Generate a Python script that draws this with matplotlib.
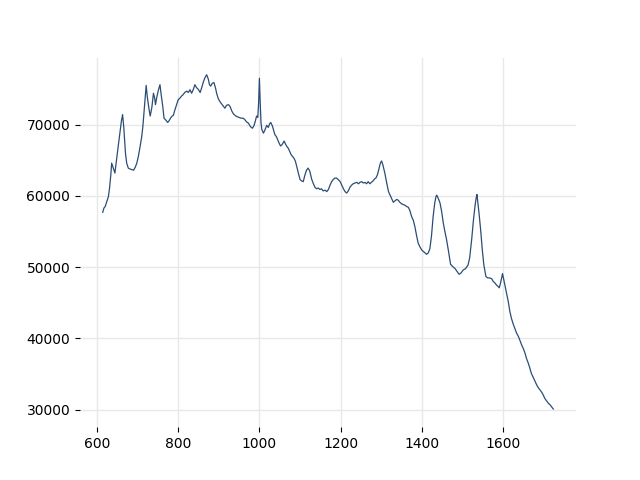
import matplotlib
matplotlib.use("Agg")
import matplotlib.pyplot as plt

# spectrum (x = wavenumber, y = intensity)
wavenumber = [614, 617, 620, 624, 628, 631, 634, 636, 640, 644, 648, 652, 656, 660, 663,
              666, 670, 673, 677, 680, 685, 690, 694, 698, 702, 706, 710, 713, 717, 721,
              724, 728, 731, 735, 739, 742, 744, 747, 751, 755, 758, 762, 765, 770, 774,
              777, 781, 785, 788, 792, 796, 800, 804, 808, 812, 816, 821, 825, 829, 833,
              837, 841, 845, 850, 854, 858, 862, 866, 870, 874, 877, 880, 884, 888, 892,
              895, 899, 903, 907, 911, 915, 919, 924, 928, 932, 936, 942, 946, 950, 955,
              960, 964, 968, 973, 977, 980, 983, 987, 990, 993, 996, 998, 1000, 1002, 1004,
              1006, 1010, 1014, 1018, 1022, 1025, 1028, 1032, 1035, 1038, 1042, 1047, 1052,
              1056, 1061, 1064, 1068, 1071, 1075, 1078, 1082, 1086, 1089, 1092, 1096, 1100,
              1104, 1108, 1112, 1116, 1120, 1124, 1127, 1129, 1133, 1137, 1141, 1145, 1149,
              1153, 1157, 1162, 1166, 1170, 1174, 1178, 1182, 1186, 1190, 1194, 1199, 1203,
              1207, 1211, 1215, 1219, 1223, 1227, 1231, 1235, 1240, 1244, 1248, 1252, 1256,
              1260, 1264, 1268, 1272, 1276, 1280, 1284, 1287, 1291, 1295, 1298, 1301, 1304,
              1309, 1313, 1318, 1322, 1326, 1330, 1334, 1338, 1342, 1346, 1350, 1354, 1358,
              1363, 1367, 1371, 1375, 1379, 1383, 1387, 1391, 1395, 1400, 1404, 1408, 1412,
              1416, 1420, 1424, 1428, 1432, 1435, 1437, 1441, 1445, 1449, 1453, 1457, 1461,
              1466, 1471, 1476, 1482, 1487, 1492, 1497, 1502, 1508, 1514, 1518, 1523, 1527,
              1531, 1534, 1536, 1538, 1541, 1545, 1549, 1553, 1558, 1562, 1566, 1572, 1576,
              1580, 1584, 1588, 1591, 1595, 1599, 1603, 1609, 1613, 1617, 1621, 1626, 1630,
              1634, 1638, 1642, 1646, 1650, 1654, 1658, 1662, 1666, 1670, 1675, 1679, 1683,
              1687, 1691, 1695, 1699, 1703, 1708, 1712, 1716, 1720, 1724]
intensity = [57700, 58300, 58500, 59200, 59900, 61200, 63000, 64600, 63900, 63200, 65100, 66900, 68700, 70500, 71400,
             69500, 66000, 64600, 63900, 63800, 63700, 63600, 64000, 64600, 65600, 66900, 68300, 69800, 72700, 75500,
             73800, 72200, 71200, 72400, 74400, 73700, 72800, 73800, 74800, 75600, 74200, 72500, 70900, 70600, 70300,
             70500, 70900, 71200, 71300, 72100, 72800, 73500, 73700, 74000, 74200, 74500, 74700, 74500, 74900, 74400,
             74900, 75600, 75200, 74900, 74500, 75200, 76000, 76600, 77000, 76400, 75600, 75400, 75800, 75900, 75100,
             74300, 73600, 73200, 72900, 72600, 72300, 72700, 72800, 72500, 71900, 71500, 71200, 71100, 71000, 70900,
             70900, 70700, 70400, 70200, 69800, 69600, 69500, 69900, 70500, 71200, 71000, 73000, 76500, 73000, 70200,
             69300, 68800, 69300, 69900, 69600, 70100, 70300, 69800, 69200, 68600, 68300, 67600, 67000,
             67200, 67700, 67300, 66900, 66700, 66200, 65800, 65500, 65200, 64800, 64100, 63200, 62300,
             62100, 62000, 62900, 63600, 63900, 63500, 62800, 62300, 61700, 61200, 61000, 61100, 60900,
             61000, 60700, 60800, 60600, 60900, 61500, 62000, 62300, 62500, 62500, 62300, 62000, 61500,
             61000, 60600, 60400, 60700, 61200, 61500, 61700, 61800, 61900, 61700, 61900, 62000, 61800,
             61900, 61700, 62000, 61700, 61900, 62100, 62400, 62500, 63000, 63900, 64600, 64900, 64400,
             63200, 62000, 60600, 60100, 59600, 59100, 59300, 59500, 59400, 59100, 58900, 58800, 58700,
             58500, 58400, 57900, 57100, 56600, 55700, 54500, 53400, 52900, 52400, 52200, 52000, 51800,
             52000, 52600, 54400, 57100, 59000, 59900, 60100, 59600, 59000, 57800, 56200, 55000, 53900,
             52200, 50400, 50100, 49800, 49400, 49000, 49200, 49600, 49800, 50300, 51300, 53900, 56400,
             58500, 59700, 60200, 59200, 57600, 55300, 52500, 50300, 48700, 48500, 48500, 48400, 48000,
             47800, 47500, 47300, 47100, 48000, 49100, 48000, 46400, 45200, 43800, 42800, 41900, 41300,
             40700, 40300, 39700, 39100, 38600, 38000, 37200, 36600, 35900, 35100, 34500, 34000, 33500,
             33100, 32800, 32500, 32100, 31600, 31200, 30900, 30700, 30400, 30100]

fig, ax = plt.subplots(figsize=(6.4, 4.8), dpi=100)
ax.plot(wavenumber, intensity, color="#2b4d75", linewidth=0.9)

ax.grid(True, color="#e8e8e8", linewidth=1)
ax.set_axisbelow(True)
for side in ["top", "right", "bottom", "left"]:
    ax.spines[side].set_visible(False)
ax.set_xticks([600, 800, 1000, 1200, 1400, 1600])
ax.set_yticks([30000, 40000, 50000, 60000, 70000])
ax.set_xlim(558, 1780)
ax.set_ylim(27550, 79400)

plt.savefig("out.png")
